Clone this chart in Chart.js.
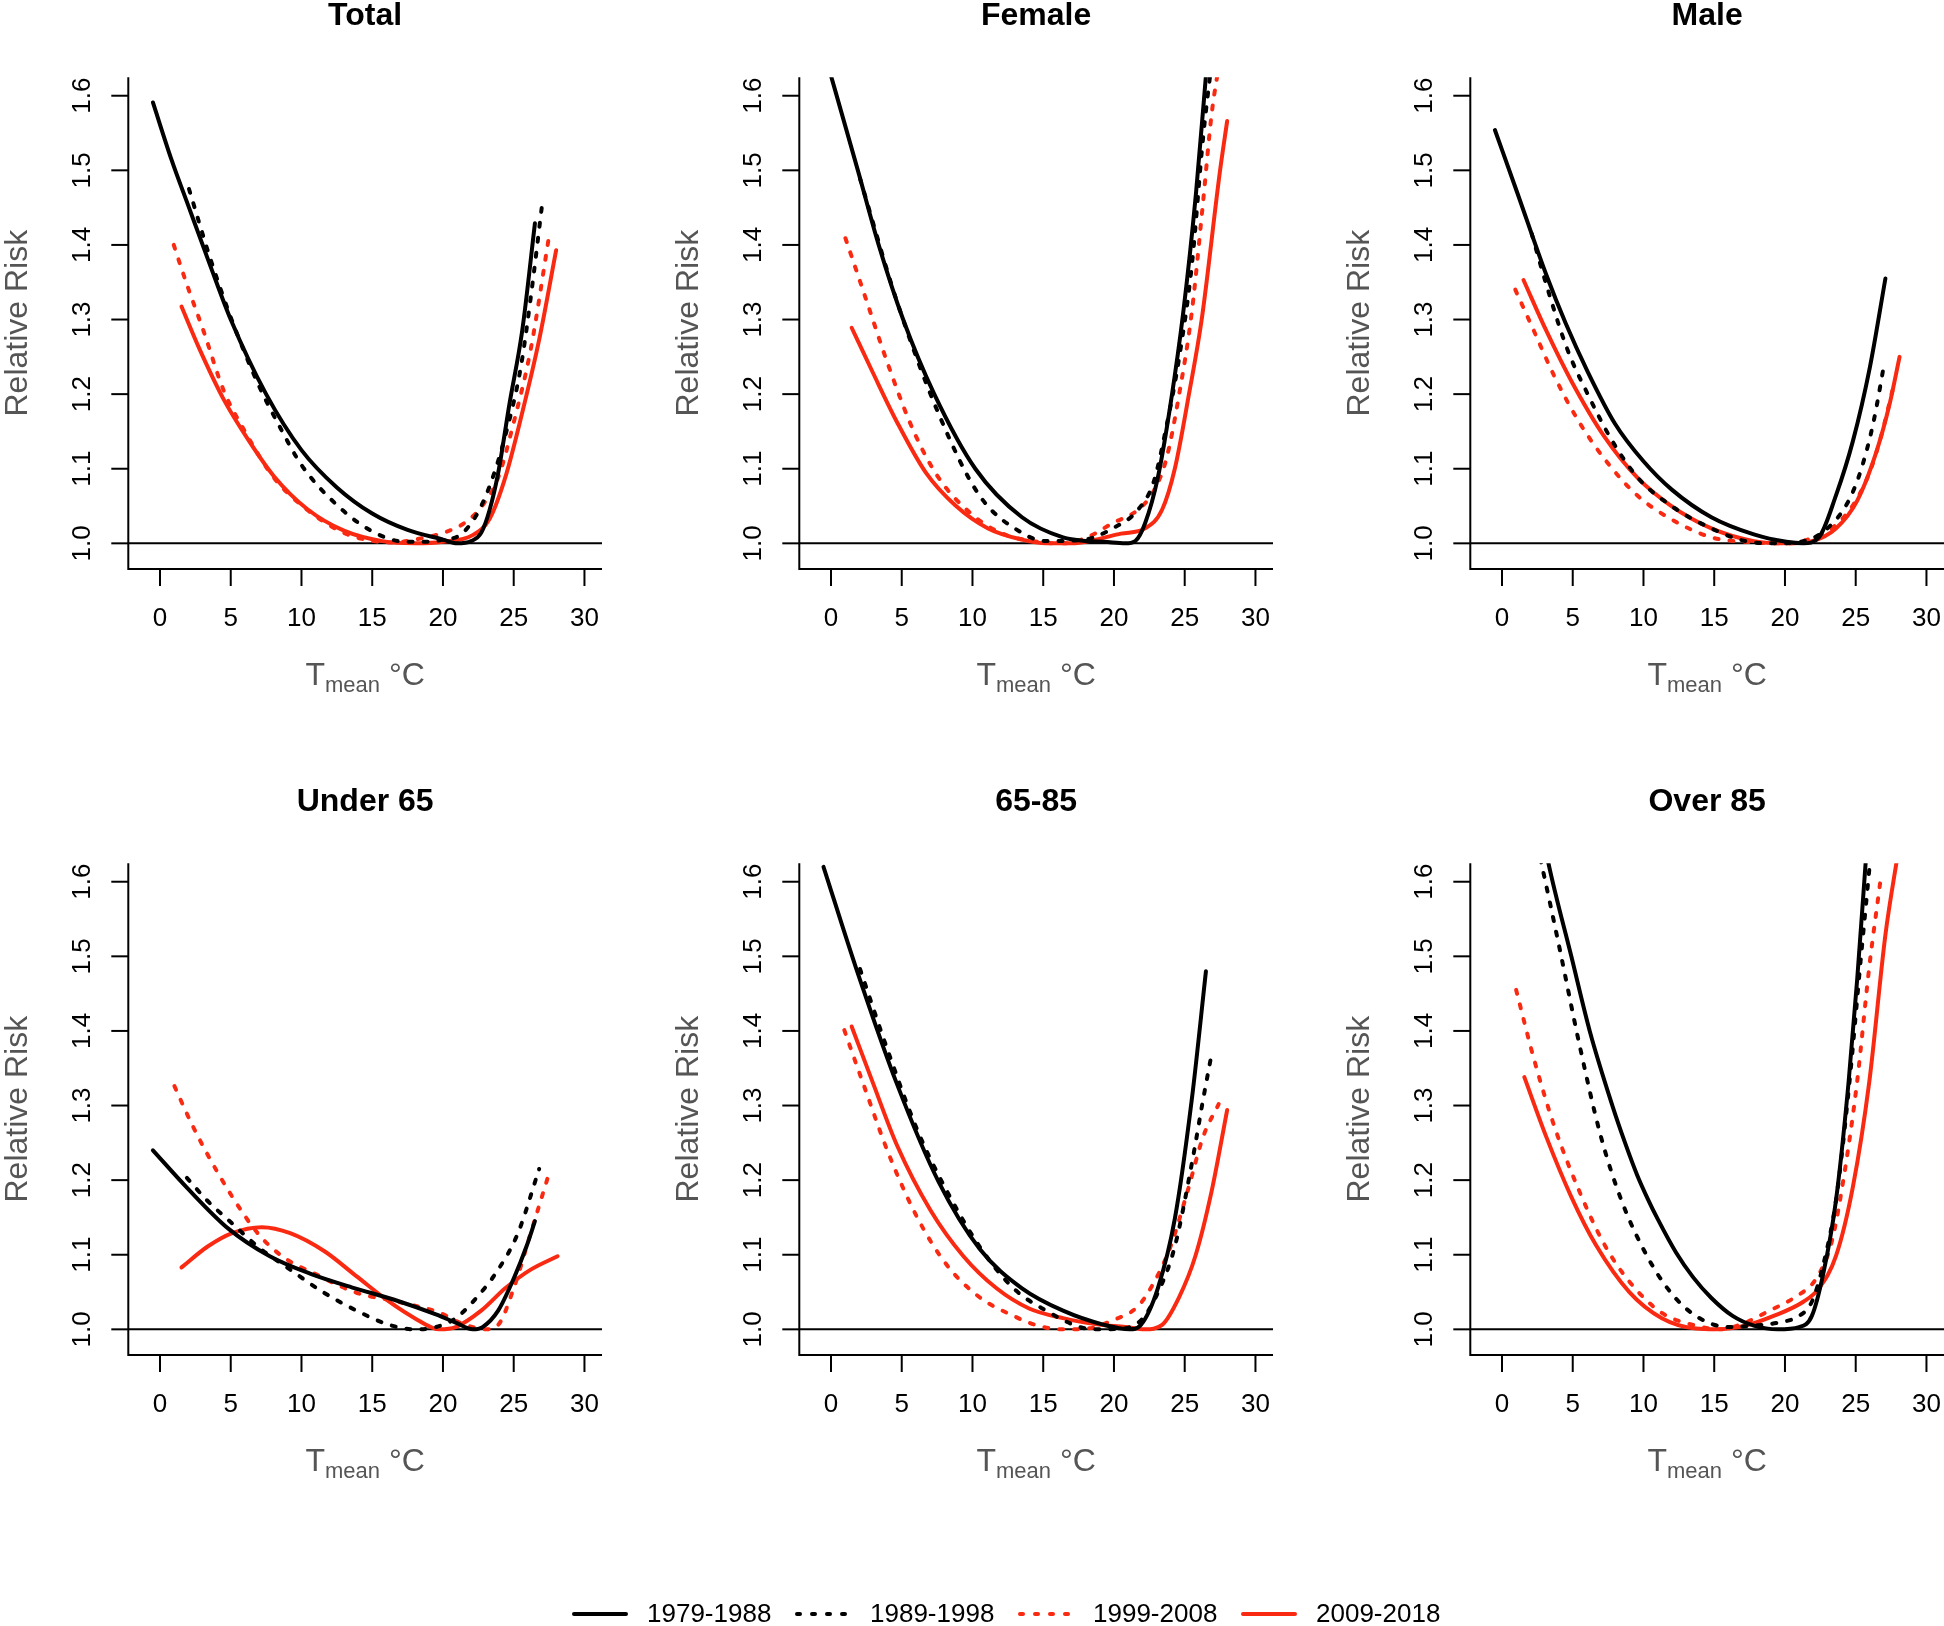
<!DOCTYPE html>
<html>
<head>
<meta charset="utf-8">
<title>Relative risk by period</title>
<script src="https://cdn.jsdelivr.net/npm/chart.js@4.4.1/dist/chart.umd.min.js"></script>
<style>
  body { margin: 0; background: #fff; overflow: hidden; }
  #fig { position: relative; width: 1944px; height: 1626px; overflow: hidden; background: #fff; }
  #fig canvas { position: absolute; }
</style>
</head>
<body>
<div id="fig"></div>
<script>
// --- labels ---
const periods = ['1979-1988', '1989-1998', '1999-2008', '2009-2018'];
const panelTitles = ['Total', 'Female', 'Male', 'Under 65', '65-85', 'Over 85'];
const xTicks = [0, 5, 10, 15, 20, 25, 30];
const yTicks = [1.0, 1.1, 1.2, 1.3, 1.4, 1.5, 1.6];
const yTickLabels = ['1.0', '1.1', '1.2', '1.3', '1.4', '1.5', '1.6'];

// --- Total (Tmean in degC, relative risk) ---
const totalT1 = [-0.5, 0.8, 2.05, 3.5, 5, 7.5, 10, 12.5, 15, 17.5, 20, 21, 22, 22.7, 23.3, 23.9, 24.7, 25.6, 26.5];
const totalRR1 = [1.591, 1.515, 1.45, 1.375, 1.3, 1.2, 1.125, 1.075, 1.04, 1.018, 1.005, 1.0, 1.003, 1.014, 1.045, 1.094, 1.187, 1.285, 1.429];
const totalT2 = [2.05, 3.5, 5, 6.9, 8.5, 10, 12.7, 15.1, 17.4, 19, 20, 21.2, 22.4, 23.4, 24.4, 25.5, 26.2, 27.0];
const totalRR2 = [1.475, 1.385, 1.303, 1.215, 1.155, 1.105, 1.048, 1.015, 1.002, 1.002, 1.005, 1.011, 1.039, 1.082, 1.144, 1.236, 1.329, 1.453];
const totalT3 = [0.97, 1.9, 3.07, 4.5, 6.0, 8.05, 10.4, 13, 15.1, 16.5, 18, 20, 21.5, 22.8, 23.9, 25, 26.2, 27.5];
const totalRR3 = [1.40, 1.347, 1.285, 1.205, 1.15, 1.088, 1.045, 1.014, 1.003, 1.001, 1.005, 1.014, 1.027, 1.051, 1.088, 1.162, 1.26, 1.412];
const totalT4 = [1.52, 2.78, 4.5, 6.3, 8.05, 10.4, 13, 15.7, 18, 20, 22.1, 23.3, 24.4, 25.6, 26.8, 28.0];
const totalRR4 = [1.3175, 1.261, 1.193, 1.137, 1.09, 1.046, 1.017, 1.003, 1.0, 1.002, 1.011, 1.033, 1.088, 1.175, 1.273, 1.393];

// --- Female ---
const femaleT1 = [-0.5, 1.9, 3.37, 5.1, 7.3, 10.2, 13.5, 16.4, 18.1, 19.3, 20.8, 21.5, 22.2, 23.1, 24, 24.9, 25.8, 26.6];
const femaleRR1 = [1.66, 1.5, 1.4, 1.3, 1.2, 1.1, 1.035, 1.008, 1.003, 1.002, 1.0, 1.003, 1.027, 1.088, 1.187, 1.31, 1.47, 1.65];
const femaleT2 = [2.05, 4.7, 7.6, 10.5, 13.5, 15.2, 17.9, 19.9, 21.7, 22.8, 23.7, 24.6, 25.5, 26.3, 27.0];
const femaleRR2 = [1.489, 1.322, 1.174, 1.064, 1.014, 1.003, 1.005, 1.02, 1.045, 1.082, 1.156, 1.248, 1.372, 1.544, 1.66];
const femaleT3 = [1.02, 2.34, 4.1, 5.85, 7.6, 9.95, 12, 14.6, 16.4, 18.1, 19.9, 21.7, 22.8, 23.7, 24.6, 25.5, 26.3, 26.9, 27.5];
const femaleRR3 = [1.409, 1.335, 1.236, 1.15, 1.088, 1.039, 1.014, 1.002, 1.0, 1.008, 1.027, 1.045, 1.07, 1.113, 1.199, 1.31, 1.458, 1.575, 1.65];
const femaleT4 = [1.46, 2.93, 4.68, 6.73, 8.78, 11.1, 13.5, 15.2, 17, 18.7, 20.5, 22.2, 23.4, 24.3, 25.3, 26.2, 27.5, 28.0];
const femaleRR4 = [1.289, 1.23, 1.162, 1.094, 1.051, 1.02, 1.005, 1.0, 1.0, 1.005, 1.013, 1.02, 1.045, 1.1, 1.2, 1.3, 1.5, 1.566];

// --- Male ---
const maleT1 = [-0.5, 1.08, 3.13, 4.5, 6.06, 8, 10, 12, 14.8, 17.8, 20.1, 21.3, 22.4, 23.6, 24.8, 26, 27.1];
const maleRR1 = [1.554, 1.47, 1.36, 1.295, 1.23, 1.16, 1.11, 1.072, 1.035, 1.012, 1.002, 1.0, 1.008, 1.064, 1.137, 1.236, 1.355];
const maleT2 = [2.1, 3.13, 4.6, 6.06, 7.8, 9.6, 11.9, 14.8, 17.2, 19.2, 21.3, 23, 24.5, 25.4, 26.25, 27];
const maleRR2 = [1.415, 1.347, 1.261, 1.2, 1.137, 1.088, 1.051, 1.02, 1.003, 1.0, 1.003, 1.02, 1.057, 1.10, 1.162, 1.239];
const maleT3 = [0.94, 2.25, 3.7, 5.47, 7.5, 9.57, 11.9, 14.8, 17.2, 20.1, 21.6, 23.3, 24.8, 25.96, 26.8, 27.6];
const maleRR3 = [1.34, 1.285, 1.224, 1.162, 1.107, 1.064, 1.033, 1.008, 1.002, 1.0, 1.005, 1.02, 1.051, 1.094, 1.144, 1.205];
const maleT4 = [1.52, 3.13, 4.89, 7.2, 9.57, 11.9, 14.8, 17.8, 20.1, 21.9, 23.6, 25.1, 26.5, 27.4, 28.1];
const maleRR4 = [1.353, 1.285, 1.218, 1.144, 1.088, 1.051, 1.02, 1.003, 1.0, 1.003, 1.02, 1.057, 1.125, 1.187, 1.25];

// --- Under 65 ---
const u65T1 = [-0.5, 1.9, 4.83, 7.76, 10.7, 13.6, 16.5, 19.5, 20.9, 22.1, 22.8, 23.9, 25, 25.9, 26.5];
const u65RR1 = [1.24, 1.19, 1.135, 1.098, 1.074, 1.056, 1.04, 1.02, 1.009, 1.0, 1.003, 1.025, 1.068, 1.111, 1.145];
const u65T2 = [1.9, 3.37, 5.1, 6.9, 9.2, 11.6, 13.9, 16.2, 18, 19.5, 20.9, 22.4, 23.9, 25.3, 26.8];
const u65RR2 = [1.203, 1.172, 1.142, 1.111, 1.08, 1.049, 1.025, 1.006, 1.0, 1.003, 1.015, 1.043, 1.08, 1.129, 1.215];
const u65T3 = [1.02, 2.2, 3.37, 5.1, 6.9, 8.63, 11, 13.9, 16.8, 19.8, 21.2, 23, 23.9, 25, 26.2, 27.5];
const u65RR3 = [1.326, 1.277, 1.234, 1.178, 1.129, 1.098, 1.074, 1.049, 1.037, 1.022, 1.009, 1.0, 1.006, 1.055, 1.129, 1.209];
const u65T4 = [1.52, 3.37, 5.1, 7.2, 9.2, 11.6, 13.9, 16.2, 18, 19.75, 20.9, 22.7, 24.4, 26.2, 28.1];
const u65RR4 = [1.083, 1.111, 1.129, 1.137, 1.129, 1.105, 1.071, 1.037, 1.015, 1.0, 1.003, 1.025, 1.055, 1.08, 1.098];

// --- 65-85 ---
const midT1 = [-0.53, 1.76, 4.68, 7.6, 10.5, 13.5, 16.4, 19.3, 21.1, 21.9, 23.1, 24.3, 25.5, 26.5];
const midRR1 = [1.62, 1.485, 1.328, 1.198, 1.108, 1.055, 1.025, 1.006, 1.0, 1.006, 1.055, 1.148, 1.308, 1.48];
const midT2 = [2.05, 4.1, 6.15, 8.2, 10.5, 12.9, 15.2, 17.6, 18.7, 20.5, 21.9, 23.1, 24.3, 25.5, 26.3, 26.9];
const midRR2 = [1.483, 1.369, 1.265, 1.185, 1.111, 1.055, 1.025, 1.003, 1.0, 1.001, 1.012, 1.049, 1.111, 1.222, 1.308, 1.369];
const midT3 = [0.94, 2.34, 4.1, 6.15, 8.2, 10.5, 12.9, 14.6, 16.4, 18.1, 19.9, 21.7, 22.8, 24, 25.2, 26.3, 27.4];
const midRR3 = [1.401, 1.326, 1.234, 1.148, 1.086, 1.043, 1.018, 1.005, 1.0, 1.001, 1.012, 1.031, 1.062, 1.111, 1.185, 1.258, 1.302];
const midT4 = [1.46, 2.93, 4.68, 7.02, 9.36, 11.7, 14, 16.4, 18.7, 20.8, 22.2, 23.4, 24.6, 25.75, 26.9, 28];
const midRR4 = [1.406, 1.332, 1.246, 1.16, 1.098, 1.055, 1.028, 1.015, 1.007, 1.003, 1.0, 1.006, 1.043, 1.098, 1.185, 1.294];

// --- Over 85 ---
const o85T1 = [-0.5, 1.5, 3.28, 4.9, 6.2, 7.8, 8.7, 9.55, 10.3, 11, 12.3, 13.5, 14.8, 16.3, 17.8, 19.5, 21, 21.9, 22.7, 23.6, 24.5, 25.1, 25.7, 26.2];
const o85RR1 = [2.05, 1.80, 1.625, 1.5, 1.4, 1.3, 1.25, 1.207, 1.175, 1.148, 1.103, 1.07, 1.042, 1.018, 1.005, 1.0, 1.003, 1.018, 1.074, 1.172, 1.332, 1.468, 1.625, 1.75];
const o85T2 = [2.0, 2.78, 4.0, 5.47, 6.94, 8.4, 10.2, 11.9, 13.7, 16, 17.8, 19.5, 21, 21.9, 22.7, 23.6, 24.5, 25.4, 26, 27];
const o85RR2 = [1.69, 1.625, 1.517, 1.382, 1.262, 1.175, 1.1, 1.05, 1.018, 1.003, 1.005, 1.009, 1.018, 1.037, 1.086, 1.172, 1.32, 1.505, 1.625, 1.85];
const o85T3 = [1.0, 2.25, 3.72, 5.47, 7.2, 9, 11.3, 13.7, 15.4, 17.2, 18.9, 20.7, 22.2, 23.3, 24.2, 25.1, 25.96, 26.8];
const o85RR3 = [1.455, 1.363, 1.271, 1.185, 1.115, 1.064, 1.022, 1.005, 1.0, 1.009, 1.025, 1.043, 1.068, 1.117, 1.209, 1.332, 1.486, 1.609];
const o85T4 = [1.58, 3.13, 4.89, 6.64, 9, 11.3, 13.7, 15.1, 17.2, 19.2, 21.3, 22.4, 23.6, 24.8, 25.96, 27.1, 28.0];
const o85RR4 = [1.338, 1.258, 1.178, 1.113, 1.05, 1.015, 1.001, 1.0, 1.005, 1.018, 1.037, 1.055, 1.098, 1.191, 1.332, 1.529, 1.64];

const panelData = [
    [[totalT1, totalRR1], [totalT2, totalRR2], [totalT3, totalRR3], [totalT4, totalRR4]],
    [[femaleT1, femaleRR1], [femaleT2, femaleRR2], [femaleT3, femaleRR3], [femaleT4, femaleRR4]],
    [[maleT1, maleRR1], [maleT2, maleRR2], [maleT3, maleRR3], [maleT4, maleRR4]],
    [[u65T1, u65RR1], [u65T2, u65RR2], [u65T3, u65RR3], [u65T4, u65RR4]],
    [[midT1, midRR1], [midT2, midRR2], [midT3, midRR3], [midT4, midRR4]],
    [[o85T1, o85RR1], [o85T2, o85RR2], [o85T3, o85RR3], [o85T4, o85RR4]]
];

// line styles per period
const periodColors = ['#000000', '#000000', '#FA2A12', '#FA2A12'];
const periodDash = [[], [4, 11], [4, 11], []];

const FONT = '"Liberation Sans", Arial, Helvetica, sans-serif';
const LABEL_GREY = '#555555';

// R-like axes: L-box, outward ticks, rotated y labels, reference line at RR = 1
const rAxes = {
    id: 'rAxes',
    beforeDatasetsDraw(chart) {
        const { ctx, chartArea: a, scales: { y } } = chart;
        const y1 = y.getPixelForValue(1);
        ctx.save();
        ctx.strokeStyle = '#000';
        ctx.lineWidth = 2;
        ctx.beginPath();
        ctx.moveTo(a.left, y1);
        ctx.lineTo(a.right, y1);
        ctx.stroke();
        ctx.restore();
    },
    afterDraw(chart, args, opts) {
        const { ctx, chartArea: a, scales: { x, y } } = chart;
        ctx.save();
        ctx.strokeStyle = '#000';
        ctx.lineWidth = 2;
        ctx.lineCap = 'butt';

        // L-shaped box
        ctx.beginPath();
        ctx.moveTo(a.left, a.top);
        ctx.lineTo(a.left, a.bottom);
        ctx.lineTo(a.right, a.bottom);
        ctx.stroke();

        // x ticks + labels
        ctx.fillStyle = '#000';
        ctx.font = '26px ' + FONT;
        ctx.textAlign = 'center';
        ctx.textBaseline = 'middle';
        xTicks.forEach(v => {
            const px = x.getPixelForValue(v);
            ctx.beginPath();
            ctx.moveTo(px, a.bottom);
            ctx.lineTo(px, a.bottom + 17);
            ctx.stroke();
            ctx.fillText(String(v), px, a.bottom + 50);
        });

        // y ticks + rotated labels
        yTicks.forEach((v, i) => {
            const py = y.getPixelForValue(v);
            ctx.beginPath();
            ctx.moveTo(a.left, py);
            ctx.lineTo(a.left - 17, py);
            ctx.stroke();
            ctx.save();
            ctx.translate(a.left - 38, py);
            ctx.rotate(-Math.PI / 2);
            ctx.textBaseline = 'alphabetic';
            ctx.fillText(yTickLabels[i], 0, 0);
            ctx.restore();
        });

        const cx = (a.left + a.right) / 2;

        // panel title
        ctx.font = 'bold 32px ' + FONT;
        ctx.textBaseline = 'alphabetic';
        ctx.fillText(opts.title, cx, a.top - 52);

        // y axis title
        ctx.fillStyle = LABEL_GREY;
        ctx.save();
        ctx.translate(a.left - 101, (a.top + a.bottom) / 2);
        ctx.rotate(-Math.PI / 2);
        ctx.font = '32px ' + FONT;
        ctx.fillText('Relative Risk', 0, 0);
        ctx.restore();

        // x axis title: T with subscript "mean", then degC
        const mainFont = '32px ' + FONT;
        const subFont = '22px ' + FONT;
        ctx.font = mainFont;
        const wT = ctx.measureText('T').width;
        const wRest = ctx.measureText(' \u00B0C').width;
        ctx.font = subFont;
        const wSub = ctx.measureText('mean').width;
        const base = a.bottom + 116;
        const xs = cx - (wT + wSub + wRest) / 2;
        ctx.textAlign = 'left';
        ctx.font = mainFont;
        ctx.fillText('T', xs, base);
        ctx.font = subFont;
        ctx.fillText('mean', xs + wT, base + 7);
        ctx.font = mainFont;
        ctx.fillText(' \u00B0C', xs + wT + wSub, base);
        ctx.restore();
    }
};

// panel placement (plot region at 128..602 x 77..569 inside each canvas)
const fig = document.getElementById('fig');
const colLeft = [0, 671, 1342];
const rowTop = [0, 786];
const PANEL_W = 671, PANEL_H = 786;

panelTitles.forEach((title, p) => {
    const cv = document.createElement('canvas');
    cv.width = PANEL_W;
    cv.height = PANEL_H;
    cv.style.left = colLeft[p % 3] + 'px';
    cv.style.top = rowTop[Math.floor(p / 3)] + 'px';
    fig.appendChild(cv);

    const datasets = panelData[p].map(([temps, rr], k) => ({
        label: periods[k],
        data: temps.map((t, i) => ({ x: t, y: rr[i] })),
        borderColor: periodColors[k],
        borderWidth: 4,
        borderDash: periodDash[k],
        borderCapStyle: 'round',
        borderJoinStyle: 'round',
        cubicInterpolationMode: 'monotone',
        pointRadius: 0,
        fill: false,
        clip: 0
    }));

    new Chart(cv, {
        type: 'line',
        data: { datasets: datasets },
        options: {
            responsive: false,
            animation: false,
            events: [],
            layout: { padding: { left: 128.3, top: 77.3, right: PANEL_W - 602, bottom: PANEL_H - 569 } },
            scales: {
                x: { type: 'linear', min: -2.24, max: 31.24, display: false },
                y: { type: 'linear', min: 0.9656, max: 1.6247, display: false }
            },
            plugins: {
                legend: { display: false },
                tooltip: { enabled: false },
                rAxes: { title: title }
            }
        },
        plugins: [rAxes]
    });
});

// shared legend along the bottom
const legendRow = {
    id: 'legendRow',
    afterDraw(chart) {
        const { ctx } = chart;
        const yc = 34;
        ctx.save();
        ctx.font = '26px ' + FONT;
        ctx.textBaseline = 'middle';
        ctx.textAlign = 'left';
        chart.data.datasets.forEach((ds, i) => {
            const x0 = 574 + i * 223;
            ctx.strokeStyle = ds.borderColor;
            ctx.lineWidth = 4;
            ctx.lineCap = 'round';
            ctx.setLineDash(ds.borderDash.length ? [3, 12] : []);
            ctx.beginPath();
            ctx.moveTo(x0, yc);
            ctx.lineTo(x0 + 52, yc);
            ctx.stroke();
            ctx.setLineDash([]);
            ctx.fillStyle = '#000';
            ctx.fillText(ds.label, x0 + 73, yc + 1);
        });
        ctx.restore();
    }
};

const lg = document.createElement('canvas');
lg.width = 1944;
lg.height = 46;
lg.style.left = '0px';
lg.style.top = '1580px';
fig.appendChild(lg);
new Chart(lg, {
    type: 'line',
    data: {
        datasets: periods.map((name, k) => ({
            label: name,
            data: [],
            borderColor: periodColors[k],
            borderDash: periodDash[k]
        }))
    },
    options: {
        responsive: false,
        animation: false,
        events: [],
        scales: { x: { display: false }, y: { display: false } },
        plugins: { legend: { display: false }, tooltip: { enabled: false } }
    },
    plugins: [legendRow]
});
</script>
</body>
</html>
